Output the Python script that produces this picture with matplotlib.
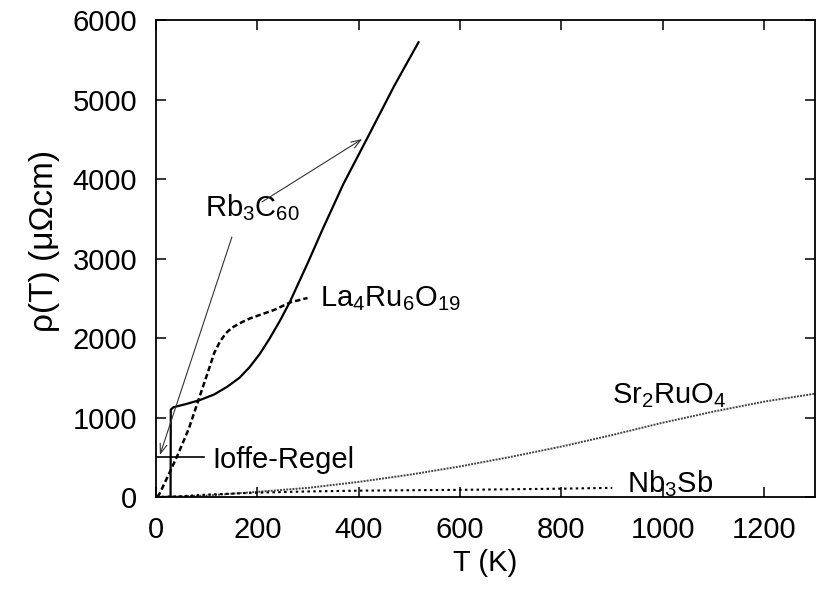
import matplotlib
matplotlib.use("Agg")
import matplotlib.pyplot as plt

plt.rcParams['font.family'] = ['Liberation Sans', 'DejaVu Sans']
plt.rcParams['mathtext.fontset'] = 'custom'
plt.rcParams['mathtext.rm'] = 'Liberation Sans'
plt.rcParams['mathtext.it'] = 'Liberation Sans:italic'

# Data
rb_T = [0, 29, 29.5, 35, 60, 87, 115, 140, 165, 185, 205, 224, 245, 264, 300, 329, 370, 415, 470, 518]
rb_rho = [0, 0, 1100, 1130, 1170, 1220, 1290, 1384, 1500, 1635, 1800, 1990, 2220, 2450, 2950, 3370, 3940, 4490, 5170, 5720]

la_T = [3, 8, 25, 43, 65, 83, 106, 115, 126, 138, 150, 170, 187, 232, 266, 299]
la_rho = [0, 50, 280, 528, 860, 1200, 1635, 1810, 1950, 2060, 2130, 2200, 2250, 2350, 2450, 2503]

sr_T = [0, 100, 200, 300, 400, 500, 600, 700, 800, 900, 1000, 1100, 1200, 1300]
sr_rho = [0, 18, 65, 115, 190, 280, 385, 505, 635, 780, 935, 1075, 1200, 1300]

nb_T = [0, 50, 100, 200, 300, 400, 600, 800, 900]
nb_rho = [0, 10, 30, 55, 70, 80, 90, 105, 115]

ir_T = [0, 95]
ir_rho = [500, 500]

xticks = [0, 200, 400, 600, 800, 1000, 1200]
yticks = [0, 1000, 2000, 3000, 4000, 5000, 6000]

fig = plt.figure(figsize=(8.16, 5.90), dpi=100)
ax = fig.add_axes([0.191, 0.1576, 0.8078, 0.8085])

ax.plot(rb_T, rb_rho, color='black', lw=1.6, linestyle='-')
ax.plot(la_T, la_rho, color='black', lw=1.8, linestyle=(0, (2.2, 1.2)))
ax.plot(sr_T, sr_rho, color='#444444', lw=1.4, linestyle=(0, (1, 0.6)))
ax.plot(nb_T, nb_rho, color='black', lw=1.5, linestyle=(0, (1.2, 1.6)))
ax.plot(ir_T, ir_rho, color='black', lw=1.2, linestyle='-')

fs = 21
ax.text(96, 3530, r'Rb$_3$C$_{60}$', fontsize=fs, va='baseline', ha='left')
ax.text(323, 2400, r'La$_4$Ru$_6$O$_{19}$', fontsize=fs, va='baseline', ha='left')
ax.text(900, 1180, r'Sr$_2$RuO$_4$', fontsize=fs, va='baseline', ha='left')
ax.text(929, 63, r'Nb$_3$Sb', fontsize=fs, va='baseline', ha='left')
ax.text(112, 365, 'Ioffe-Regel', fontsize=fs, va='baseline', ha='left')

arrowprops = dict(arrowstyle='->,head_length=0.7,head_width=0.25', color='#333333', lw=0.8,
                  shrinkA=0, shrinkB=0)
ax.annotate('', xy=(407, 4503), xytext=(209, 3711), arrowprops=arrowprops)
ax.annotate('', xy=(8, 528), xytext=(150, 3270), arrowprops=arrowprops)

ax.set_xlim(0, 1300)
ax.set_ylim(0, 6000)
ax.set_xticks(xticks)
ax.set_yticks(yticks)
ax.tick_params(direction='in', length=7, width=1.1, top=True, right=True,
               labelsize=fs)
ax.tick_params(axis='x', pad=14)
ax.tick_params(axis='y', pad=13.5)
for s in ax.spines.values():
    s.set_linewidth(1.3)

ax.set_xlabel('T (K)', fontsize=fs, labelpad=3)
ax.set_ylabel('ρ(T) (μΩcm)', fontsize=24)
ax.yaxis.set_label_coords(-0.145, 0.537)

fig.savefig('out.png', dpi=100)
